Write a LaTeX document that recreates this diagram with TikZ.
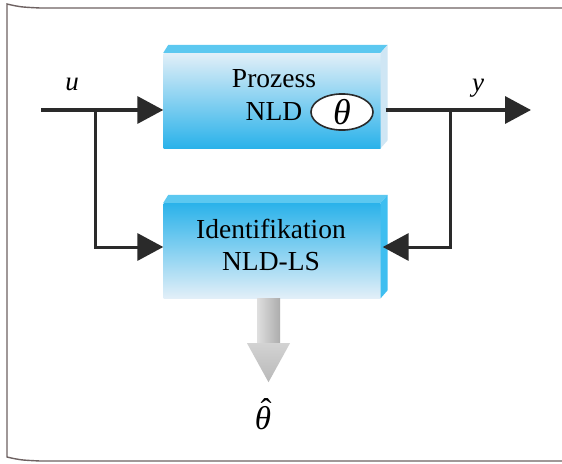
\documentclass[tikz,border=0pt]{standalone}
\usepackage{fontspec}
\setmainfont{Liberation Serif}
\usetikzlibrary{arrows.meta,calc,shapes.geometric}
\definecolor{lineDark}{HTML}{2A2A2A}
\definecolor{frameCol}{HTML}{6E6262}
\definecolor{topCyan}{HTML}{5CC8F0}
\definecolor{cyanDeep}{HTML}{2AB2EA}
\definecolor{cyanMid}{HTML}{9AD6F2}
\definecolor{paleBlue}{HTML}{E2EFF8}
\definecolor{sideLight}{HTML}{CFE6F4}
\definecolor{sideCyan}{HTML}{3EBEF0}
\begin{document}
\begin{tikzpicture}[x=1pt,y=-1pt,
  blockbox/.style={minimum width=217pt,minimum height=95pt,inner sep=0pt,draw=none},
  lbl/.style={font=\fontsize{27.5}{30}\selectfont,inner sep=0pt},
  sym/.style={font=\fontsize{27}{30}\selectfont\itshape,inner sep=0pt},
  conn/.style={line width=3.5pt,draw=lineDark,-{Triangle[length=26pt,width=27pt]}},
  wire/.style={line width=3pt,draw=lineDark}]
\useasboundingbox (0,0) rectangle (562,463);
\fill[white] (0,0) rectangle (562,463);
% frame
\draw[frameCol,line width=1.4pt] (562,8) -- (40,8) .. controls (20,7) .. (7,4) -- (7,457) .. controls (20,460) .. (40,461) -- (562,461);
% blocks
\node[blockbox,shade,top color=paleBlue,middle color=cyanMid,bottom color=cyanDeep] (proc) at (272,100.5) {};
\fill[topCyan] (proc.north west) -- ++(5,-8) -- ($(proc.north east)+(7,-8)$) -- (proc.north east) -- cycle;
\fill[sideLight] (proc.north east) -- ++(7,-8) -- ($(proc.south east)+(7,-8)$) -- (proc.south east) -- cycle;
\node[blockbox,shade,top color=cyanDeep,middle color=cyanMid!80!cyanDeep,bottom color=paleBlue] (ident) at (272,250.5) {};
\fill[topCyan] (ident.north west) -- ++(5,-8) -- ($(ident.north east)+(7,-8)$) -- (ident.north east) -- cycle;
\fill[sideCyan] (ident.north east) -- ++(7,-8) -- ($(ident.south east)+(7,-8)$) -- (ident.south east) -- cycle;
% texts
\node[lbl] (pt1) at (274,79) {Prozess};
\node[lbl] (pt2) at (274,112) {NLD};
\node[draw=lineDark,line width=1.6pt,fill=white,ellipse,minimum width=62pt,minimum height=34pt,inner sep=0pt] (theta) at (342,112) {\fontsize{36}{36}\selectfont\itshape θ};
\node[lbl] (it1) at (271,229) {Identifikation};
\node[lbl] (it2) at (271,262) {NLD-LS};
% signals
\coordinate (uin) at (41,110);
\coordinate (ju) at (95,110);
\coordinate (jy) at (450,110);
\coordinate (yout) at (531,110);
\node[sym] (ulab) at (72,84) {u};
\node[sym] (ylab) at (478,88) {y};
\draw[conn] (uin) -- (proc.west |- uin);
\draw[wire] (ju) |- ($(ident.west)+(-12,-3.5)$);
\draw[conn] ($(ident.west)+(-14,-3.5)$) -- ($(ident.west)+(0,-3.5)$);
\draw[conn] ($(proc.east |- yout)+(5,0)$) -- (yout);
\draw[wire] (jy) |- ($(ident.east)+(14,-3.5)$);
\draw[conn] ($(ident.east)+(16,-3.5)$) -- ($(ident.east)+(2,-3.5)$);
% estimate arrow
\coordinate (gA) at ($(ident.south)+(-3.5,0)$);
\coordinate (tip) at ($(gA)+(0,84)$);
\shade[left color=gray!25,right color=gray!65] ($(gA)+(-11.5,0)$) rectangle ($(gA)+(11.5,45)$);
\shade[top color=gray!35,bottom color=gray!55] ($(gA)+(-21.5,45)$) -- ($(gA)+(21.5,45)$) -- (tip) -- cycle;
\node[inner sep=0pt,font=\fontsize{33}{33}\selectfont\itshape] (thhat) at (263,414) {\rlap{\kern0.17em\raisebox{0.26em}{\upshape ˆ}}θ};
\end{tikzpicture}
\end{document}
